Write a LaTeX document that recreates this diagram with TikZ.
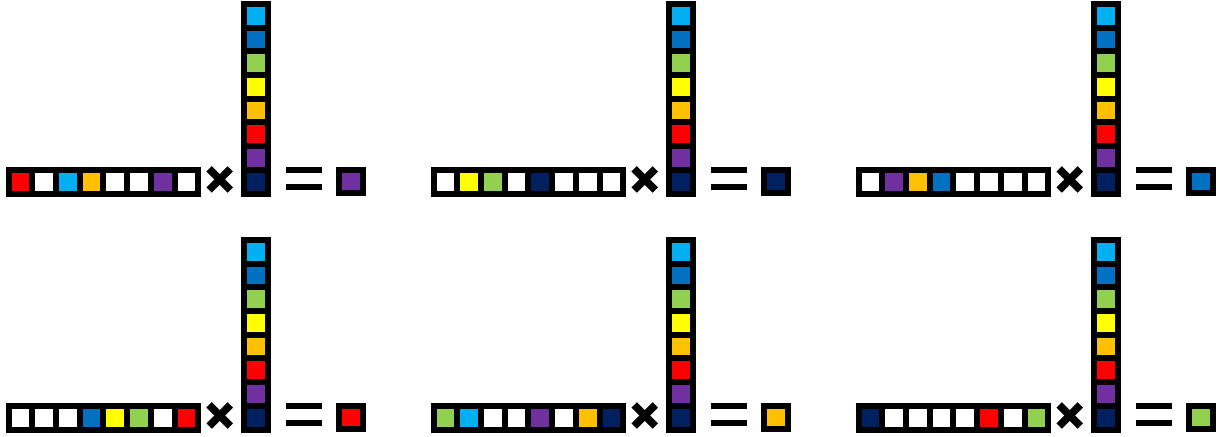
\documentclass[tikz,border=0pt]{standalone}
\usepackage{tikz}
\usepackage{xcolor}
\usetikzlibrary{positioning}

\definecolor{cSky}{HTML}{00B0F0}
\definecolor{cBlue}{HTML}{0070C0}
\definecolor{cGreen}{HTML}{92D050}
\definecolor{cYellow}{HTML}{FFFF00}
\definecolor{cOrange}{HTML}{FFC000}
\definecolor{cRed}{HTML}{FF0000}
\definecolor{cPurple}{HTML}{7030A0}
\definecolor{cNavy}{HTML}{002060}

\tikzset{
    cell/.style={draw=black, line width=3pt, minimum size=11.85pt, inner sep=0pt, outer sep=0pt},
    opline/.style={line width=3.75pt}
}

\begin{document}
\begin{tikzpicture}[x=0.5pt,y=-0.5pt]
    \useasboundingbox (0,0) rectangle (1222,437);

    \foreach \p/\ox/\oy/\res/\cells in {
        1/0/0/cPurple/{cRed,white,cSky,cOrange,white,white,cPurple,white},
        2/425/0/cNavy/{white,cYellow,cGreen,white,cNavy,white,white,white},
        3/850/0/cBlue/{white,cPurple,cOrange,cBlue,white,white,white,white},
        4/0/236/cRed/{white,white,white,cBlue,cYellow,cGreen,white,cRed},
        5/425/236/cOrange/{cGreen,cSky,white,white,cPurple,white,cOrange,cNavy},
        6/850/236/cGreen/{cNavy,white,white,white,white,cRed,white,cGreen}}{
        % row vector
        \foreach [count=\i from 0] \c in \cells
            \node[cell, fill=\c] (r\p-\i) at ({\ox+20.5+23.7*\i},{\oy+181.7}) {};
        % times sign
        \coordinate (x\p) at ({\ox+219.7},{\oy+179.5});
        \draw[opline] (x\p) ++(-10.6,-10.6) -- ++(21.2,21.2);
        \draw[opline] (x\p) ++(-10.6,10.6) -- ++(21.2,-21.2);
        % column
        \foreach [count=\j from 0] \c in {cSky,cBlue,cGreen,cYellow,cOrange,cRed,cPurple,cNavy}
            \node[cell, fill=\c] (c\p-\j) at ({\ox+256},{\oy+15.8+23.7*\j}) {};
        % equals sign
        \coordinate (e\p) at ({\ox+304},{\oy+178.7});
        \fill (e\p) ++(-18,-12) rectangle ++(36,6);
        \fill (e\p) ++(-18,5.6) rectangle ++(36,6.2);
        % result
        \node[cell, fill=\res] (res\p) at ({\ox+351},{\oy+181.5}) {};
    }
\end{tikzpicture}
\end{document}
